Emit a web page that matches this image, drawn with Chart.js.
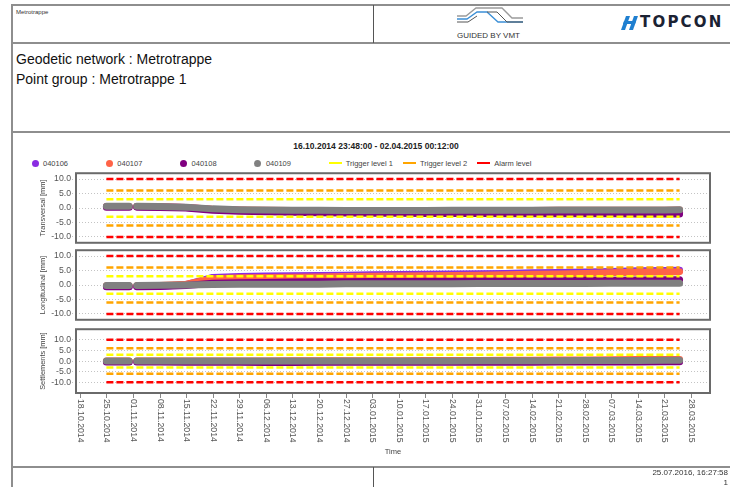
<!DOCTYPE html>
<html>
<head>
<meta charset="utf-8">
<script src="https://cdn.jsdelivr.net/npm/chart.js@4.4.1/dist/chart.umd.min.js"></script>
<style>
  html, body { margin: 0; padding: 0; background: #fff; }
  body { width: 730px; height: 487px; position: relative; overflow: hidden; font-family: 'Liberation Sans', Arial, sans-serif; }
  .ln { position: absolute; background: #8e8e8e; }
  .txt { position: absolute; white-space: nowrap; color: #111; }
  canvas { position: absolute; left: 12px; }
  #legend { position: absolute; left: 31.5px; top: 158px; height: 10px; display: flex; }
  #legend .item { width: 74.3px; display: flex; align-items: center; font-size: 7.5px; color: #444; }
  #legend .dot { width: 7px; height: 7px; border-radius: 50%; margin-right: 4.5px; }
  #legend .bar { width: 13px; height: 2.5px; margin-right: 4px; }
</style>
</head>
<body>
<!-- page frame -->
<div class="ln" style="left:11px;top:4px;width:719px;height:1.5px"></div>
<div class="ln" style="left:11px;top:4px;width:1.5px;height:483px"></div>
<div class="ln" style="left:11px;top:42px;width:719px;height:1.5px"></div>
<div class="ln" style="left:373px;top:5px;width:1px;height:38px;background:#555"></div>
<div class="ln" style="left:11px;top:131px;width:719px;height:1.5px"></div>
<div class="ln" style="left:11px;top:466px;width:719px;height:1.5px"></div>
<div class="ln" style="left:373px;top:467px;width:1px;height:20px;background:#555"></div>

<div class="txt" style="left:16px;top:9px;font-size:6px;color:#333">Metrotrappe</div>
<div class="txt" style="left:16px;top:51px;font-size:14px">Geodetic network : Metrotrappe</div>
<div class="txt" style="left:16px;top:71px;font-size:14px">Point group : Metrotrappe 1</div>

<!-- VMT logo -->
<svg style="position:absolute;left:450px;top:5px" width="80" height="38">
  <path d="M7,11 H16 L26,3 H52 L62,13 H73" fill="none" stroke="#9a9a9a" stroke-width="1.3"/>
  <path d="M7,14 H17 L27,7 H37 L48,17 H73" fill="none" stroke="#3b8fd6" stroke-width="1.3"/>
  <path d="M7,17 H18 L27,11 M37,7 L47,7 L57,17 L73,17" fill="none" stroke="#555" stroke-width="1"/>
</svg>
<div class="txt" style="left:457px;top:31px;font-size:8px;color:#333">GUIDED BY VMT</div>
<!-- TOPCON logo -->
<svg style="position:absolute;left:620px;top:14px" width="22" height="18">
  <polygon points="6,2 10,2 5,16 1,16" fill="#1f7fd0"/>
  <polygon points="14,2 18,2 13,16 9,16" fill="#1f7fd0"/>
  <polygon points="4,7 16,7 15,10 3,10" fill="#1f7fd0"/>
</svg>
<div class="txt" style="left:640px;top:13px;font-size:15px;font-weight:bold;font-family:'DejaVu Sans';letter-spacing:2.2px;color:#1b2233">TOPCON</div>

<div class="txt" id="title" style="left:0;width:752px;top:141px;text-align:center;font-size:8.5px;font-weight:bold;color:#222"></div>
<div id="legend"></div>

<canvas id="c1" width="718" height="82" style="top:167px"></canvas>
<canvas id="c2" width="718" height="82" style="top:244px"></canvas>
<canvas id="c3" width="718" height="140" style="top:323px"></canvas>

<div class="txt" style="right:2px;top:468px;font-size:8px;color:#333">25.07.2016, 16:27:58</div>
<div class="txt" style="right:2px;top:478px;font-size:8px;color:#333">1</div>

<script>
// ---------------------------- data -----------------------------------
const rangeStart = '16.10.2014 23:48:00';
const rangeEnd = '02.04.2015 00:12:00';

const names = ['040106', '040107', '040108', '040109'];
const colors = ['#8a2be2', '#ff6347', '#800080', '#808080'];

const dates = [
  '25.10.2014', '31.10.2014', '01.11.2014', '02.11.2014', '08.11.2014',
  '15.11.2014', '22.11.2014', '29.11.2014', '06.12.2014', '13.12.2014',
  '20.12.2014', '27.12.2014', '03.01.2015', '10.01.2015', '17.01.2015',
  '24.01.2015', '31.01.2015', '07.02.2015', '14.02.2015', '21.02.2015',
  '28.02.2015', '07.03.2015', '14.03.2015', '21.03.2015', '25.03.2015'
];

// Transversal [mm]
const tra106 = [0.5, 0.5, null, 0.5, 0.4, 0.2, -0.5, -0.8, -1.0, -1.1, -1.2, -1.3, -1.3, -1.4, -1.4, -1.4, -1.5, -1.5, -1.5, -1.5, -1.6, -1.6, -1.6, -1.6, -1.6];
const tra107 = [0.5, 0.5, null, 0.5, 0.4, 0.2, -0.4, -0.7, -0.8, -0.9, -0.9, -1.0, -1.0, -1.0, -1.0, -0.9, -0.9, -0.9, -0.9, -0.8, -0.8, -0.8, -0.8, -0.8, -0.7];
const tra108 = [0.3, 0.3, null, 0.3, 0.2, 0.0, -0.8, -1.1, -1.3, -1.5, -1.6, -1.7, -1.8, -1.8, -1.9, -1.9, -1.9, -2.0, -2.0, -2.0, -2.0, -2.0, -2.1, -2.1, -2.1];
const tra109 = [0.6, 0.6, null, 0.6, 0.5, 0.3, -0.3, -0.6, -0.7, -0.8, -0.8, -0.9, -0.9, -0.9, -0.9, -0.8, -0.8, -0.8, -0.8, -0.7, -0.7, -0.7, -0.7, -0.7, -0.6];

// Longitudinal [mm]
const lon106 = [-0.5, -0.5, null, -0.5, -0.4, 0.1, 2.6, 2.9, 3.1, 3.2, 3.3, 3.4, 3.5, 3.6, 3.7, 3.8, 3.9, 4.0, 4.2, 4.3, 4.5, 4.7, 4.9, 5.0, 5.1];
const lon107 = [-0.3, -0.3, null, -0.3, -0.2, 0.3, 2.2, 2.5, 2.6, 2.7, 2.8, 2.9, 3.0, 3.1, 3.2, 3.3, 3.4, 3.5, 3.7, 3.8, 4.0, 4.2, 4.4, 4.5, 4.6];
const lon108 = [-0.6, -0.6, null, -0.6, -0.5, -0.2, 0.6, 0.8, 0.9, 1.0, 1.1, 1.1, 1.2, 1.2, 1.3, 1.3, 1.4, 1.4, 1.5, 1.5, 1.6, 1.6, 1.7, 1.8, 1.8];
const lon109 = [-0.2, -0.2, null, -0.2, -0.1, 0.0, 0.2, 0.3, 0.3, 0.3, 0.3, 0.4, 0.4, 0.4, 0.4, 0.4, 0.5, 0.5, 0.5, 0.5, 0.5, 0.6, 0.6, 0.6, 0.6];

// Settlements [mm]
const set106 = [-0.2, -0.2, null, -0.2, -0.2, -0.2, -0.2, -0.2, -0.3, -0.3, -0.3, -0.2, -0.2, -0.2, -0.2, -0.2, -0.2, -0.2, -0.1, -0.1, -0.1, 0.0, 0.0, 0.0, 0.0];
const set107 = [0.1, 0.1, null, 0.1, 0.1, 0.1, 0.1, 0.1, 0.1, 0.2, 0.2, 0.2, 0.2, 0.2, 0.3, 0.3, 0.3, 0.4, 0.4, 0.5, 0.5, 0.6, 0.7, 0.7, 0.8];
const set108 = [-0.4, -0.4, null, -0.4, -0.4, -0.5, -0.5, -0.5, -0.6, -0.7, -0.5, -0.5, -0.5, -0.5, -0.5, -0.5, -0.5, -0.5, -0.5, -0.4, -0.4, -0.4, -0.4, -0.3, -0.3];
const set109 = [0.1, 0.1, null, 0.1, 0.1, 0.1, 0.1, 0.1, 0.1, 0.1, 0.1, 0.1, 0.1, 0.1, 0.1, 0.1, 0.2, 0.2, 0.2, 0.2, 0.3, 0.3, 0.3, 0.4, 0.4];

// limit levels (+/-)
const levelNames = ['Trigger level 1', 'Trigger level 2', 'Alarm level'];
const levelValues = [3, 6, 10];
const levelColors = ['#ffff00', '#ffa500', '#ff0000'];
const levelStart = '25.10.2014';
const levelEnd = '25.03.2015';

const yTicks = [-10, -5, 0, 5, 10];
const xTickLabels = [
  '18.10.2014', '25.10.2014', '01.11.2014', '08.11.2014', '15.11.2014', '22.11.2014',
  '29.11.2014', '06.12.2014', '13.12.2014', '20.12.2014', '27.12.2014', '03.01.2015',
  '10.01.2015', '17.01.2015', '24.01.2015', '31.01.2015', '07.02.2015', '14.02.2015',
  '21.02.2015', '28.02.2015', '07.03.2015', '14.03.2015', '21.03.2015', '28.03.2015'
];

// ---------------------------- helpers --------------------------------
function toDay(s) {
  const parts = s.split(' ');
  const d = parts[0].split('.').map(Number);
  let v = Date.UTC(d[2], d[1] - 1, d[0]) / 864e5;
  if (parts[1]) {
    const t = parts[1].split(':').map(Number);
    v += (t[0] + t[1] / 60 + t[2] / 3600) / 24;
  }
  return v;
}

document.getElementById('title').textContent = rangeStart + ' - ' + rangeEnd;

const legendEl = document.getElementById('legend');
names.forEach((n, i) => {
  legendEl.insertAdjacentHTML('beforeend',
    '<div class="item"><span class="dot" style="background:' + colors[i] + '"></span>' + n + '</div>');
});
levelNames.forEach((n, i) => {
  legendEl.insertAdjacentHTML('beforeend',
    '<div class="item"><span class="bar" style="background:' + levelColors[i] + '"></span>' + n + '</div>');
});

const boxPlugin = {
  id: 'box',
  afterDraw(chart) {
    const a = chart.chartArea;
    const ctx = chart.ctx;
    ctx.save();
    ctx.strokeStyle = '#6a6a6a';
    ctx.lineWidth = 2;
    ctx.strokeRect(a.left, a.top, a.right - a.left, a.bottom - a.top);
    ctx.restore();
  }
};

const xAxisPlugin = {
  id: 'xaxis',
  afterDraw(chart) {
    const ctx = chart.ctx, a = chart.chartArea, x = chart.scales.x;
    ctx.save();
    ctx.strokeStyle = '#888';
    ctx.lineWidth = 1;
    ctx.fillStyle = '#555';
    ctx.font = '8.7px "Liberation Sans"';
    ctx.textAlign = 'left';
    ctx.textBaseline = 'middle';
    xTickLabels.forEach(lbl => {
      const px = Math.round(x.getPixelForValue(toDay(lbl))) + 0.5;
      ctx.beginPath();
      ctx.moveTo(px, a.bottom + 1);
      ctx.lineTo(px, a.bottom + 5);
      ctx.stroke();
      ctx.save();
      ctx.translate(px, a.bottom + 6);
      ctx.rotate(Math.PI / 2);
      ctx.fillText(lbl, 0, 0);
      ctx.restore();
    });
    ctx.textAlign = 'center';
    ctx.fillStyle = '#444';
    ctx.font = '7.5px "Liberation Sans"';
    ctx.fillText('Time', (a.left + a.right) / 2, a.bottom + 59);
    ctx.restore();
  }
};

function makePanel(id, yTitle, series, yMax, padBottom, extraPlugins) {
  const datasets = series.map((vals, i) => ({
    label: names[i],
    data: dates.map((d, k) => ({x: toDay(d), y: vals[k]})),
    borderColor: colors[i],
    backgroundColor: colors[i],
    borderWidth: 7,
    borderCapStyle: 'round',
    borderJoinStyle: 'round',
    pointRadius: 0,
    spanGaps: false,
    order: 4 - i
  }));
  levelValues.forEach((v, i) => {
    [v, -v].forEach(val => {
      datasets.push({
        label: levelNames[i],
        data: [{x: toDay(levelStart), y: val}, {x: toDay(levelEnd), y: val}],
        borderColor: levelColors[i],
        borderWidth: 2.5,
        borderDash: [7, 3],
        pointRadius: 0,
        order: 0
      });
    });
  });

  return new Chart(document.getElementById(id), {
    type: 'line',
    data: {datasets: datasets},
    options: {
      responsive: false,
      animation: false,
      layout: {padding: {left: 22, right: 20, top: 6, bottom: padBottom}},
      plugins: {legend: {display: false}, tooltip: {enabled: false}},
      scales: {
        x: {
          type: 'linear',
          min: toDay(rangeStart),
          max: toDay(rangeEnd),
          display: false
        },
        y: {
          min: -yMax,
          max: yMax,
          afterBuildTicks: s => { s.ticks = yTicks.map(v => ({value: v})); },
          afterFit: s => { s.width = 42; },
          ticks: {
            callback: v => v.toFixed(1),
            font: {family: 'Liberation Sans', size: 8.7},
            color: '#555',
            padding: 1
          },
          grid: {color: '#c4c4c4', lineWidth: 1, tickLength: 4, tickBorderDash: [1, 2]},
          border: {display: false, dash: [1, 2]},
          title: {
            display: true,
            text: yTitle,
            font: {family: 'Liberation Sans', size: 7.4},
            color: '#444',
            padding: {top: 4.5, bottom: 0}
          }
        }
      }
    },
    plugins: [boxPlugin].concat(extraPlugins)
  });
}

makePanel('c1', 'Transversal [mm]', [tra106, tra107, tra108, tra109], 12, 6, []);
makePanel('c2', 'Longitudinal [mm]', [lon106, lon107, lon108, lon109], 12, 6, []);
makePanel('c3', 'Settlements [mm]', [set106, set107, set108, set109], 15, 70, [xAxisPlugin]);
</script>
</body>
</html>
